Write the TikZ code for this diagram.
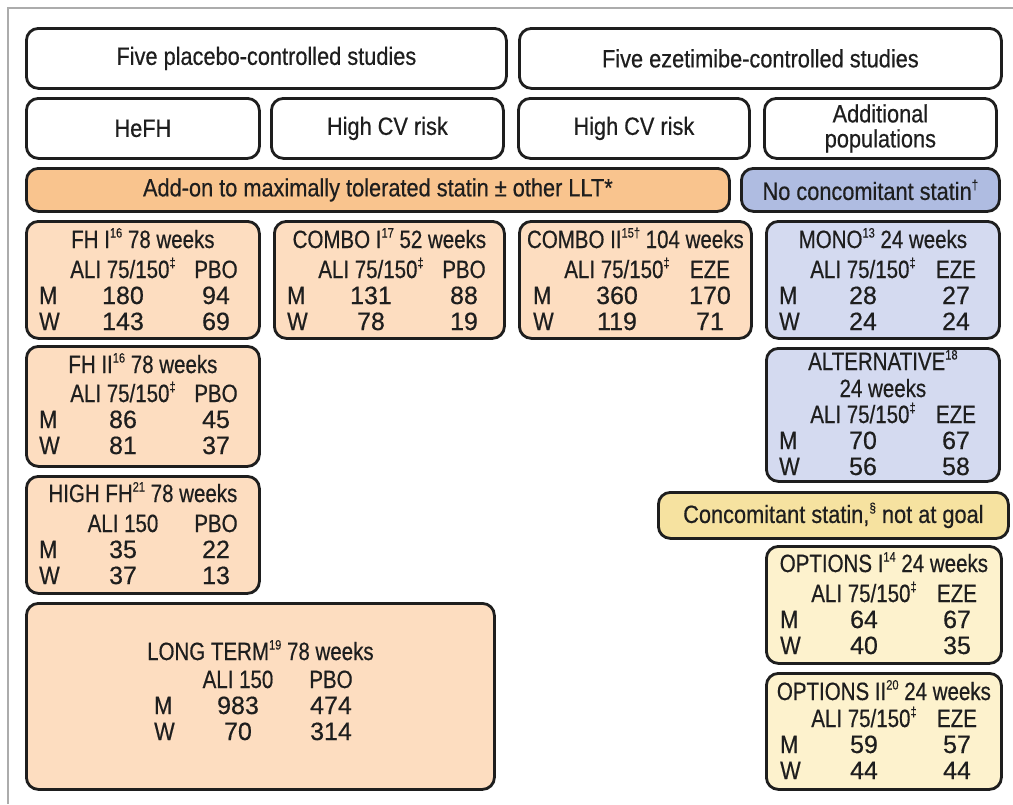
\documentclass[tikz,border=0pt]{standalone}
\usepackage{fontspec}
\setmainfont{Liberation Sans}[FakeStretch=0.87,FakeBold=0.5]
\newfontfamily\capf{Liberation Sans}[FakeStretch=0.82,FakeBold=0.5]
\newfontfamily\numf{Liberation Sans}[FakeStretch=1.0,FakeBold=0.5]
\definecolor{orbar}{RGB}{249,196,142}
\definecolor{orbox}{RGB}{253,221,192}
\definecolor{blbar}{RGB}{175,188,225}
\definecolor{blbox}{RGB}{212,218,240}
\definecolor{yebar}{RGB}{246,226,160}
\definecolor{yebox}{RGB}{253,242,205}
\definecolor{ink}{RGB}{30,30,30}
\newcommand\sps[1]{\raisebox{0.42em}{\fontsize{13.5}{13.5}\selectfont #1}}
\newcommand\bx[7]{%
  \pgfmathsetmacro\bw{#4-#2}\pgfmathsetmacro\bh{#5-#3}%
  \node[box,#6,minimum width=\bw pt,minimum height=\bh pt,anchor=north west] (#1) at (#2,#3) {#7};}
% name, left, header baseline, h1, h2, m1, m2, w1, w2
\newcommand\trow[9]{%
  \node[txt,font=\capf\fontsize{25}{27}\selectfont] (#1h1) at (#2+98,#3) {#4};
  \node[txt,font=\capf\fontsize{25}{27}\selectfont] (#1h2) at (#2+191,#3) {#5};
  \node[txt,anchor=base west] (#1m) at (#2+14,#3+26) {M};
  \node[num] (#1m1) at (#2+98,#3+26) {#6};
  \node[num] (#1m2) at (#2+191,#3+26) {#7};
  \node[txt,anchor=base west] (#1w) at (#2+14,#3+52) {W};
  \node[num] (#1w1) at (#2+98,#3+52) {#8};
  \node[num] (#1w2) at (#2+191,#3+52) {#9};}
\begin{document}
\begin{tikzpicture}[x=1pt,y=-1pt,
  box/.style={draw=ink,line width=2.8pt,rounded corners=12pt,inner sep=0pt,align=center,
    text=ink,font=\fontsize{25}{27}\selectfont},
  txt/.style={anchor=base,inner sep=0pt,text=ink,font=\fontsize{25}{27}\selectfont},
  ttl/.style={txt,font=\capf\fontsize{25}{27}\selectfont},
  num/.style={txt,font=\numf\fontsize{25}{27}\selectfont}]
\useasboundingbox (0,0) rectangle (1013,804);
\draw[gray!65,line width=2pt] (8,804) -- (8,8) -- (1013,8);
% header rows
\bx{pla}{25}{27}{505}{87}{fill=white}{Five placebo-controlled studies}
\bx{eze}{518}{27}{1000}{87}{fill=white}{Five ezetimibe-controlled studies}
\bx{hefh}{25}{97}{258}{157}{fill=white}{HeFH}
\bx{cv1}{270}{97}{502}{157}{fill=white}{High CV risk}
\bx{cv2}{517}{97}{748}{157}{fill=white}{High CV risk}
\bx{add}{763}{97}{995}{157}{fill=white}{Additional\\[-2pt]populations}
\bx{addon}{25}{167}{728}{210}{fill=orbar}{Add-on to maximally tolerated statin ± other LLT*}
\bx{nocon}{740}{167}{998}{210}{fill=blbar}{No concomitant statin\sps{†}}
\bx{conc}{657}{491}{1007}{537}{fill=yebar}{Concomitant statin,\sps{§} not at goal}
% study boxes
\bx{fh1}{25}{220}{258}{337}{fill=orbox}{}
\node[ttl] (fh1t) at (fh1.center |- 0,248) {FH I\sps{16} 78 weeks};
\trow{fh1}{25}{278}{ALI 75/150\sps{‡}}{PBO}{180}{94}{143}{69}
\bx{cb1}{273}{220}{503}{337}{fill=orbox}{}
\node[ttl] (cb1t) at (cb1.center |- 0,248) {COMBO I\sps{17} 52 weeks};
\trow{cb1}{273}{278}{ALI 75/150\sps{‡}}{PBO}{131}{88}{78}{19}
\bx{cb2}{518}{220}{750}{337}{fill=orbox}{}
\node[ttl] (cb2t) at (cb2.center |- 0,248) {COMBO II\sps{15†} 104 weeks};
\trow{cb2}{519}{278}{ALI 75/150\sps{‡}}{EZE}{360}{170}{119}{71}
\bx{mono}{765}{220}{998}{337}{fill=blbox}{}
\node[ttl] (monot) at (mono.center |- 0,248) {MONO\sps{13} 24 weeks};
\trow{mono}{765}{278}{ALI 75/150\sps{‡}}{EZE}{28}{27}{24}{24}
\bx{fh2}{25}{345}{258}{465}{fill=orbox}{}
\node[ttl] (fh2t) at (fh2.center |- 0,373) {FH II\sps{16} 78 weeks};
\trow{fh2}{25}{402}{ALI 75/150\sps{‡}}{PBO}{86}{45}{81}{37}
\bx{alt}{765}{347}{998}{480}{fill=blbox}{}
\node[ttl] (altt) at (alt.center |- 0,370) {ALTERNATIVE\sps{18}};
\node[ttl] (altt2) at (alt.center |- 0,397) {24 weeks};
\trow{alt}{765}{423}{ALI 75/150\sps{‡}}{EZE}{70}{67}{56}{58}
\bx{hfh}{25}{475}{258}{592}{fill=orbox}{}
\node[ttl] (hfht) at (hfh.center |- 0,502) {HIGH FH\sps{21} 78 weeks};
\trow{hfh}{25}{532}{ALI 150}{PBO}{35}{22}{37}{13}
\bx{lt}{25}{602}{493}{788}{fill=orbox}{}
\node[ttl] (ltt) at (lt.center |- 0,660) {LONG TERM\sps{19} 78 weeks};
\trow{lt}{140}{688}{ALI 150}{PBO}{983}{474}{70}{314}
\bx{op1}{765}{545}{1000}{662}{fill=yebox}{}
\node[ttl] (op1t) at (op1.center |- 0,572) {OPTIONS I\sps{14} 24 weeks};
\trow{op1}{766}{602}{ALI 75/150\sps{‡}}{EZE}{64}{67}{40}{35}
\bx{op2}{765}{672}{1000}{788}{fill=yebox}{}
\node[ttl] (op2t) at (op2.center |- 0,700) {OPTIONS II\sps{20} 24 weeks};
\trow{op2}{766}{727}{ALI 75/150\sps{‡}}{EZE}{59}{57}{44}{44}
\end{tikzpicture}
\end{document}
